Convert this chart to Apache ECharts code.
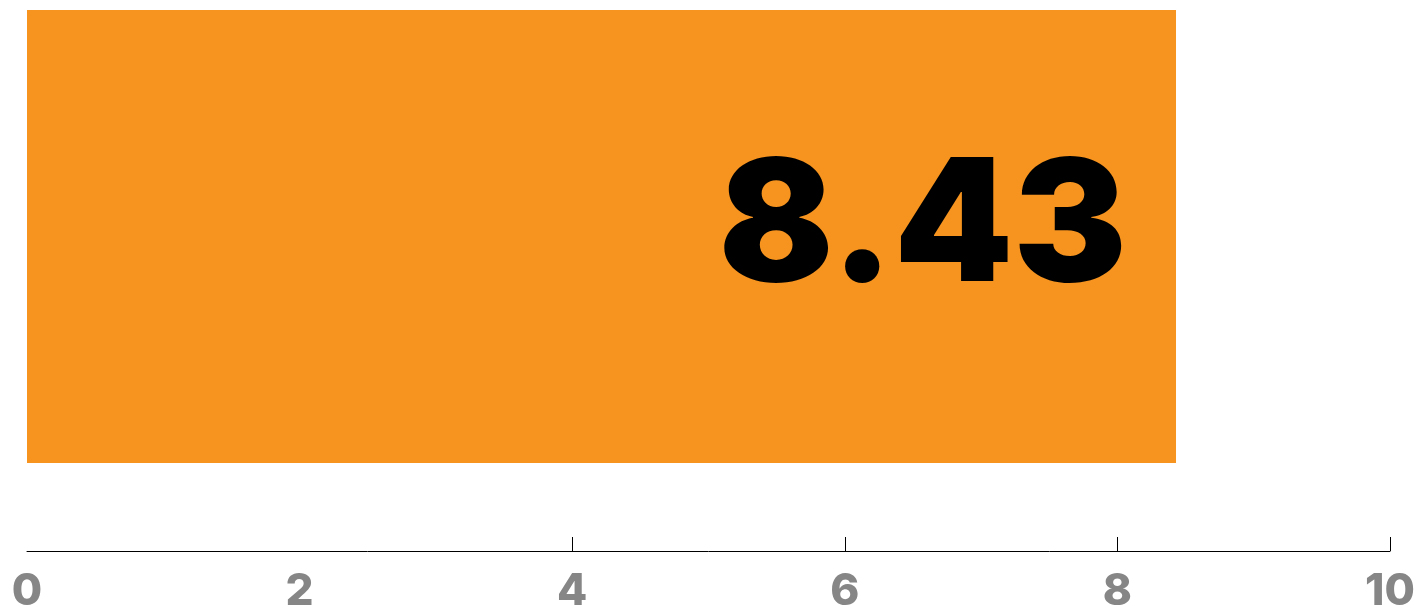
<!DOCTYPE html>
<html>
<head>
<meta charset="utf-8">
<script src="https://cdn.jsdelivr.net/npm/echarts@6/dist/echarts.min.js"></script>
<style>
  html, body { margin: 0; padding: 0; background: #ffffff; }
  #chart { width: 1425px; height: 610px; }
</style>
</head>
<body>
<div id="chart"></div>
<script>
// Single score bar on a 0–10 scale
const categories = ['score'];
const values = [8.43];
const tickValues = [4, 6, 8, 10];
const labelValues = [0, 2, 4, 6, 8, 10];

const chart = echarts.init(document.getElementById('chart'));
chart.setOption({
  animation: false,
  grid: { left: 27, right: 35, top: 10, bottom: 147, outerBoundsMode: 'none', containLabel: false },
  xAxis: {
    type: 'value',
    min: 0,
    max: 10,
    interval: 2,
    offset: 88,
    splitLine: { show: false },
    axisLine: { show: true, lineStyle: { color: '#000000', width: 1 } },
    axisTick: { show: true, inside: true, length: 14, customValues: tickValues,
      lineStyle: { color: '#000000', width: 1 } },
    axisLabel: {
      customValues: labelValues,
      margin: 19,
      color: '#868686',
      fontFamily: 'Inter',
      fontWeight: 800,
      fontSize: 44,
      showMinLabel: true,
      showMaxLabel: true
    }
  },
  yAxis: {
    type: 'category',
    data: categories,
    show: false
  },
  series: [{
    type: 'bar',
    data: values,
    barWidth: '100%',
    itemStyle: { color: '#F7941F' },
    label: {
      show: true,
      position: 'insideRight',
      distance: 49,
      offset: [0, -7],
      formatter: p => p.value.toFixed(2),
      color: '#000000',
      fontFamily: 'Inter',
      fontWeight: 900,
      fontSize: 170
    }
  }]
});
</script>
</body>
</html>
